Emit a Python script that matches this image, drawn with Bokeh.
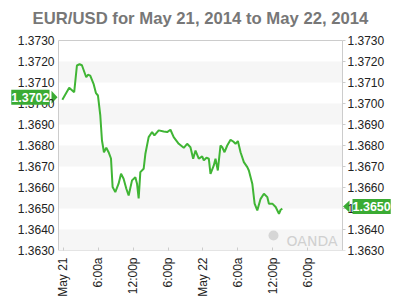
from bokeh.plotting import figure
from bokeh.models import Range1d, FixedTicker, PrintfTickFormatter, Label, LinearAxis
from bokeh.embed import file_html
from bokeh.resources import INLINE

# ---- data (hours since May 21 00:00, EUR/USD rate) ----
hours = [-0.2, 0.98, 1.84, 2.31, 2.76, 3.17, 3.91, 4.21, 4.60, 5.17,
         5.59, 5.93, 6.33, 6.62, 6.96, 7.36, 7.76, 8.17, 8.45, 8.91,
         9.48, 9.90, 10.34, 10.81, 11.21, 11.79, 12.36, 12.65, 12.93, 13.22,
         13.79, 14.09, 14.65, 15.24, 15.64, 16.38, 17.24, 17.83, 18.40, 18.96,
         19.83, 20.69, 21.27, 21.84, 22.31, 22.71, 23.27, 23.86, 24.14, 24.60,
         25.00, 25.29, 25.86, 26.15, 26.55, 27.01, 27.31, 27.70, 28.17, 28.74,
         29.20, 29.60, 30.00, 30.46, 31.03, 31.62, 31.89, 32.48, 32.88, 33.34,
         33.91, 34.48, 35.07, 35.34, 35.93, 36.50, 37.07, 37.36, 37.65]
rates = [1.37018, 1.37075, 1.37054, 1.37181, 1.37187, 1.37182, 1.37125, 1.37137, 1.37133, 1.37094,
         1.37049, 1.37038, 1.36943, 1.36824, 1.36768, 1.36789, 1.36768, 1.36738, 1.36602, 1.36578,
         1.36618, 1.36666, 1.36642, 1.36594, 1.36562, 1.36634, 1.36649, 1.36618, 1.36548, 1.36673,
         1.36689, 1.36761, 1.36840, 1.36864, 1.36848, 1.36872, 1.36867, 1.36864, 1.36875, 1.36840,
         1.36808, 1.36789, 1.36808, 1.36792, 1.36737, 1.36776, 1.36737, 1.36748, 1.36729, 1.36742,
         1.36737, 1.36665, 1.36705, 1.36737, 1.36681, 1.36800, 1.36792, 1.36768, 1.36800, 1.36827,
         1.36819, 1.36808, 1.36821, 1.36768, 1.36721, 1.36697, 1.36681, 1.36618, 1.36523, 1.36491,
         1.36546, 1.36570, 1.36554, 1.36523, 1.36523, 1.36507, 1.36475, 1.36494, 1.36499]
y_ticks = [1.3630, 1.3640, 1.3650, 1.3660, 1.3670, 1.3680, 1.3690, 1.3700, 1.3710, 1.3720, 1.3730]
x_ticks = [0, 6, 12, 18, 24, 30, 36, 42]
x_labels = ["May 21", "6:00a", "12:00p", "6:00p", "May 22", "6:00a", "12:00p", "6:00p"]
open_rate = 1.3702
last_rate = 1.3650
title_text = "EUR/USD for May 21, 2014 to May 22, 2014"

LINE_GREEN = "#40b535"
TAG_GREEN = "#3aab33"
FONT = "Liberation Sans"

# plot box (data limits) and pixel geometry of the page
x0, x1 = -0.86, 48.0
y0, y1 = y_ticks[0], y_ticks[-1]
W, H = 400, 300
BOX_L, BOX_R = 58, 342            # plot box in pixels
BOX_T, BOX_B = 40, 250
DX = (x1 - x0) / (BOX_R - BOX_L)  # hours per pixel
DY = (y1 - y0) / (BOX_B - BOX_T)  # rate per pixel

# the frame spans the full width and the top so nothing gets clipped
p = figure(width=W, height=H, output_backend="svg", toolbar_location=None,
           x_range=Range1d(x0 - BOX_L * DX, x1 + (W - BOX_R) * DX),
           y_range=Range1d(y0, y1 + BOX_T * DY),
           min_border_left=0, min_border_right=0, min_border_top=0,
           min_border_bottom=H - BOX_B)
p.title.visible = False

p.outline_line_color = None
p.background_fill_color = "white"
p.border_fill_color = "white"
p.xgrid.visible = False
p.ygrid.visible = False

# title
p.add_layout(Label(x=(x0 + x1) / 2, y=y1, y_offset=22, text=title_text,
                   text_align="center", text_baseline="alphabetic", text_font=FONT,
                   text_font_size="16.7px", text_font_style="bold", text_color="#777777"))

# alternating bands and plot-box outline
band_bottoms = y_ticks[0::2][:-1]
band_tops = y_ticks[1::2]
p.quad(left=x0, right=x1, bottom=band_bottoms, top=band_tops,
       fill_color="#f6f6f6", line_color=None)
p.quad(left=[x0], right=[x1], bottom=[y0], top=[y1], fill_color=None,
       line_color="#cccccc", line_width=1)
# small outward ticks on the right edge
p.ray(x=[x1] * len(y_ticks), y=y_ticks, length=3, length_units="screen", angle=0,
      line_color="#cccccc", line_width=1)

# left axis (labels pulled in next to the plot box)
ya = p.yaxis[0]
ya.ticker = FixedTicker(ticks=y_ticks)
ya.formatter = PrintfTickFormatter(format="%.4f")
ya.axis_line_color = None
ya.major_tick_line_color = None
ya.major_tick_out = 0
ya.major_tick_in = 0
ya.minor_tick_line_color = None
ya.major_label_standoff = -(BOX_L - 4)
ya.major_label_text_font = FONT
ya.major_label_text_font_size = "12px"
ya.major_label_text_color = "#222222"

# right axis
ra = LinearAxis(ticker=FixedTicker(ticks=y_ticks), formatter=PrintfTickFormatter(format="%.4f"))
ra.axis_line_color = None
ra.major_tick_line_color = None
ra.major_tick_out = 0
ra.major_tick_in = 0
ra.minor_tick_line_color = None
ra.major_label_standoff = -(W - BOX_R - 5)
ra.major_label_text_font = FONT
ra.major_label_text_font_size = "12px"
ra.major_label_text_color = "#222222"
p.add_layout(ra, "right")

# bottom axis
xa = p.xaxis[0]
xa.ticker = FixedTicker(ticks=x_ticks)
xa.major_label_overrides = {t: l for t, l in zip(x_ticks, x_labels)}
xa.major_label_orientation = 3.14159265 / 2
xa.axis_line_color = None
xa.major_tick_line_color = "#cccccc"
xa.major_tick_in = 3
xa.major_tick_out = 0
xa.minor_tick_line_color = None
xa.major_label_standoff = 7
xa.major_label_text_font = FONT
xa.major_label_text_font_size = "12px"
xa.major_label_text_color = "#222222"

# price line
p.line(hours, rates, line_color=LINE_GREEN, line_width=2)

# watermark
p.scatter(x=[x1 - 69 * DX], y=[y0 + 15 * DY], size=10, marker="circle",
          fill_color="#d6d6d6", line_color=None)
p.add_layout(Label(x=x1, y=y0, x_offset=-5, y_offset=10, text="OANDA",
                   text_align="right", text_baseline="alphabetic", text_font="DejaVu Sans",
                   text_font_size="14px", text_color="#d0d0d0"))

# price tags
oy = open_rate + 2 * DY
ly = last_rate + 2 * DY
p.patches(xs=[[x0 - 7 * DX, x0 - 1 * DX, x0 - 7 * DX],
              [x1 + 7 * DX, x1 + 0.5 * DX, x1 + 7 * DX]],
          ys=[[oy + 6.5 * DY, oy, oy - 6.5 * DY],
              [ly + 6 * DY, ly, ly - 6 * DY]],
          fill_color=TAG_GREEN, line_color=None)
p.add_layout(Label(x=x0, y=open_rate, x_offset=-9, y_offset=2, text="%.4f" % open_rate,
                   text_align="right", text_baseline="middle", text_font=FONT,
                   text_font_size="12.5px", text_font_style="bold", text_color="white",
                   background_fill_color=TAG_GREEN, padding=(0, 3)))
p.add_layout(Label(x=x1, y=last_rate, x_offset=10, y_offset=2, text="%.4f" % last_rate,
                   text_align="left", text_baseline="middle", text_font=FONT,
                   text_font_size="12.5px", text_font_style="bold", text_color="white",
                   background_fill_color=TAG_GREEN, padding=(0, 3)))

open("out.html", "w").write(file_html(p, INLINE))
